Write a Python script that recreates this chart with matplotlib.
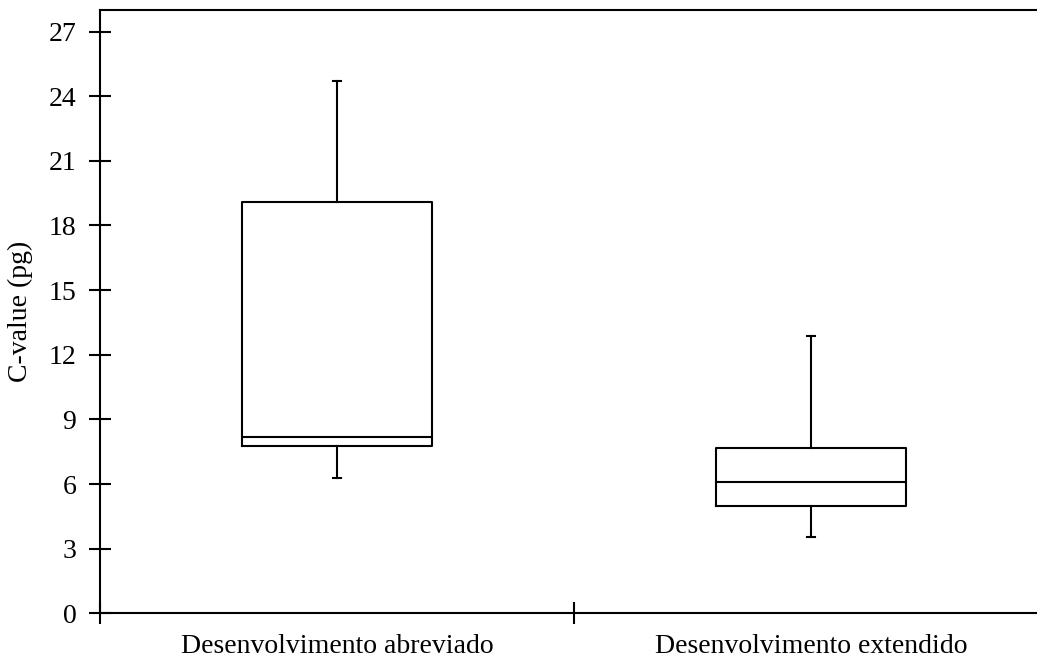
import matplotlib
matplotlib.use("Agg")
import matplotlib.pyplot as plt

# C-value summary per development type
categories = ["Desenvolvimento abreviado", "Desenvolvimento extendido"]
whisker_low = [6.28, 3.56]
q1 = [7.78, 4.97]
median = [8.20, 6.08]
q3 = [19.10, 7.66]
whisker_high = [24.69, 12.85]

plt.rcParams["font.family"] = ["Liberation Serif", "DejaVu Serif"]

fig = plt.figure(figsize=(10.37, 6.59), dpi=100)
W, H = 1037, 659
# axes run past the right edge of the figure, so no right border shows
ax = fig.add_axes([100 / W, (H - 613.3) / H, 948 / W, 603.3 / H])

stats = []
for i, name in enumerate(categories):
    stats.append({
        "label": name,
        "whislo": whisker_low[i],
        "q1": q1[i],
        "med": median[i],
        "q3": q3[i],
        "whishi": whisker_high[i],
        "fliers": [],
    })

positions = [0.5 + i for i in range(len(categories))]
lw = 1.5
ax.bxp(stats, positions=positions, widths=0.4, capwidths=0.016,
       showfliers=False,
       boxprops=dict(color="black", linewidth=lw),
       medianprops=dict(color="black", linewidth=lw),
       whiskerprops=dict(color="black", linewidth=lw),
       capprops=dict(color="black", linewidth=lw))

ax.set_xlim(0, 2)
ax.set_ylim(0, 28)
ax.set_yticks(range(0, 28, 3))
ax.set_xticks([0, 1, 2])
ax.set_xticklabels([])
ax.set_xticks(positions, minor=True)
ax.set_xticklabels(categories, minor=True)
ax.tick_params(axis="x", which="minor", length=0, pad=15, labelsize=20)
ax.tick_params(axis="both", which="major", direction="inout", length=16,
               width=lw, labelsize=20)
ax.tick_params(axis="y", which="major", pad=9)

ax.set_ylabel("C-value (pg)", fontsize=20, labelpad=11)

for side in ["left", "bottom", "top"]:
    ax.spines[side].set_linewidth(lw)
ax.spines["right"].set_visible(False)

fig.savefig("out.png", dpi=100)
